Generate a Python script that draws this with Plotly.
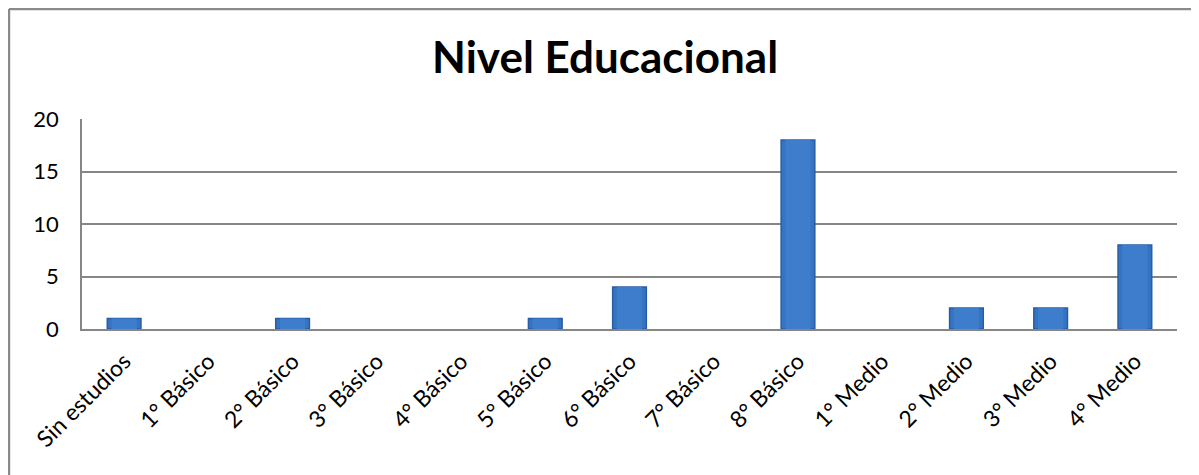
import plotly.graph_objects as go

categories = ["Sin estudios", "1° Básico", "2° Básico", "3° Básico", "4° Básico",
              "5° Básico", "6° Básico", "7° Básico", "8° Básico", "1° Medio",
              "2° Medio", "3° Medio", "4° Medio"]
values = [1, 0, 1, 0, 0, 1, 4, 0, 18, 0, 2, 2, 8]
y_ticks = [0, 5, 10, 15, 20]
title_text = "Nivel Educacional"

FONT = "Lato"

fig = go.Figure()
fig.add_trace(go.Bar(
    x=categories, y=values,
    marker=dict(color="#3574c3",
                line=dict(color="#2a5ca3",
                          width=[1.5 if v > 0 else 0 for v in values])),
    width=0.4, hoverinfo="skip",
))
# subtle lighter centre to suggest the bevelled look
fig.add_trace(go.Bar(
    x=categories, y=values,
    marker=dict(color="#3d7dcc", line=dict(width=0)),
    width=0.3,
))

fig.update_layout(
    width=1199, height=475,
    margin=dict(l=74, r=30, t=111, b=154),
    paper_bgcolor="white", plot_bgcolor="white",
    showlegend=False, barmode="overlay",
    title=dict(text="<b>" + title_text + "</b>", x=0.498, xanchor="center",
               y=0.895, yanchor="middle",
               font=dict(family=FONT, size=44, color="black")),
    font=dict(family=FONT, color="black"),
)
fig.update_xaxes(
    tickangle=-45, tickfont=dict(size=23, family=FONT, color="black"),
    showline=True, linecolor="#868686", linewidth=1.5,
    showgrid=False, ticks="", ticklabelstandoff=8,
)
fig.update_yaxes(
    range=[0, 20], tickvals=y_ticks, tickfont=dict(size=22, family=FONT, color="black"),
    showline=True, linecolor="#868686", linewidth=1.5,
    showgrid=True, gridcolor="#868686", gridwidth=1.5,
    ticks="", zeroline=False, ticklabelstandoff=17,
)

# chart-area border (left and top edges visible)
fig.add_shape(type="line", xref="paper", yref="paper",
              x0=-0.0667, x1=-0.0667, y0=-0.8, y1=1.524,
              line=dict(color="#8a8a8a", width=2.5))
fig.add_shape(type="line", xref="paper", yref="paper",
              x0=-0.0667, x1=1.05, y0=1.524, y1=1.524,
              line=dict(color="#8a8a8a", width=2.5))

fig.write_html("out.html")
